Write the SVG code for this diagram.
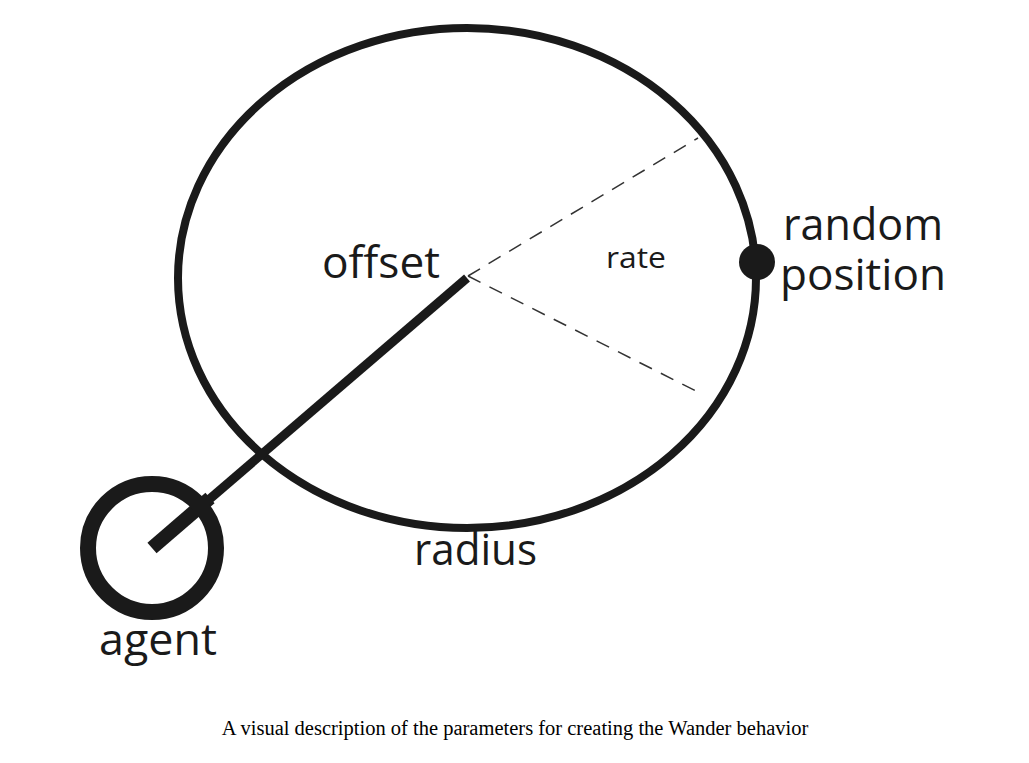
<svg xmlns="http://www.w3.org/2000/svg" width="1029" height="763" viewBox="0 0 1029 763">
<style>
.lbl{font-family:"Open Sans","Noto Sans",sans-serif;fill:#1a1a1a}
.cap{font-family:"Liberation Serif",serif;font-size:20.5px;fill:#000}
.dash{stroke:#333;stroke-width:1.5;stroke-dasharray:14 10;fill:none}
</style>
<rect width="1029" height="763" fill="#fff"/>
<g id="wander-circle">
<ellipse cx="467" cy="278" rx="289" ry="250" fill="none" stroke="#1a1a1a" stroke-width="8"/>
</g>
<g id="connectors">
<line x1="152" y1="548" x2="210" y2="498" stroke="#1a1a1a" stroke-width="14"/>
<line x1="205" y1="503" x2="467" y2="278" stroke="#1a1a1a" stroke-width="9"/>
<line class="dash" x1="468" y1="276" x2="698" y2="138"/>
<line class="dash" x1="468" y1="276" x2="698" y2="392"/>
</g>
<g id="agent">
<circle cx="152" cy="548" r="64" fill="none" stroke="#1a1a1a" stroke-width="16"/>
<text class="lbl" x="99" y="655" font-size="43" textLength="118" lengthAdjust="spacingAndGlyphs">agent</text>
</g>
<g id="random-position">
<circle cx="757" cy="262" r="18" fill="#1a1a1a"/>
<text class="lbl" x="783" y="240" font-size="43" textLength="160" lengthAdjust="spacingAndGlyphs">random</text>
<text class="lbl" x="780" y="290" font-size="43" textLength="166" lengthAdjust="spacingAndGlyphs">position</text>
</g>
<g id="labels">
<text class="lbl" x="322" y="278" font-size="43" textLength="118" lengthAdjust="spacingAndGlyphs">offset</text>
<text class="lbl" x="606" y="268" font-size="30" textLength="60" lengthAdjust="spacingAndGlyphs">rate</text>
<text class="lbl" x="414" y="565" font-size="43" textLength="123" lengthAdjust="spacingAndGlyphs">radius</text>
</g>
<text class="cap" x="515" y="735" text-anchor="middle">A visual description of the parameters for creating the Wander behavior</text>
</svg>
